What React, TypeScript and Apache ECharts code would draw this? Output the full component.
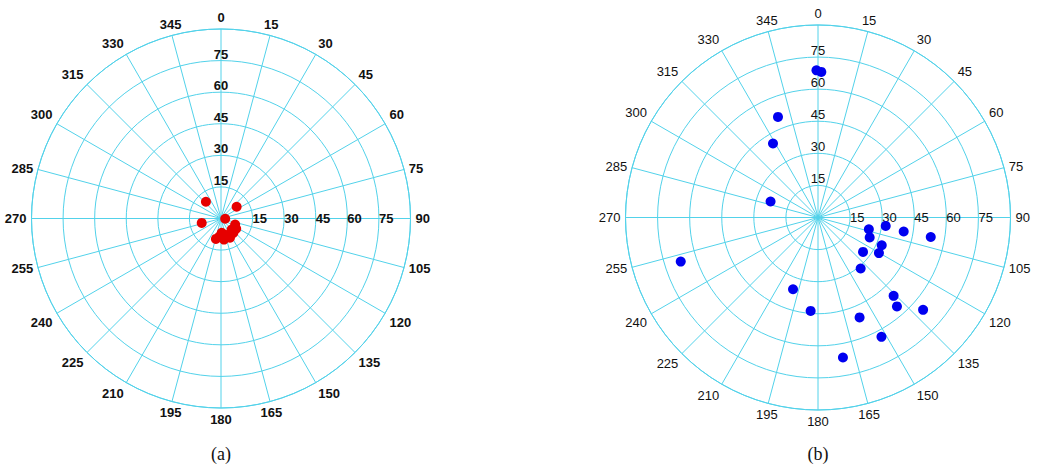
import React, { useEffect, useRef } from "react";
import * as echarts from "echarts";

// Angle ticks (degrees, clockwise from top) and radius ticks
const angleTicks = [0, 15, 30, 45, 60, 75, 90, 105, 120, 135, 150, 165, 180, 195, 210, 225, 240, 255, 270, 285, 300, 315, 330, 345];
const radiusTicks = [15, 30, 45, 60, 75];

// (a) red points: [radius, angle]
const seriesA: [number, number][] = [
  [10.7, 318], [9.3, 53], [9.4, 257], [2.0, 94], [8.8, 186], [10.1, 172], [10.1, 155],
  [9.0, 139], [8.7, 124], [7.3, 113], [6.8, 177], [8.4, 155], [7.3, 136], [10.0, 194],
];

// (b) blue points: [radius, angle]
const seriesB: [number, number][] = [
  [68.8, 359.4], [68.1, 1.3], [50.6, 338.3], [40.5, 328.7], [23.4, 288.6], [67.4, 252.2],
  [35.5, 199.2], [43.8, 184.5], [66.5, 169.9], [50.6, 157.4], [63.2, 152], [50.9, 136],
  [55.6, 138.4], [65.4, 131.3], [31.1, 140.1], [26.5, 127.4], [33.0, 120.3], [32.5, 113.5],
  [24.4, 103], [25.9, 111.1], [31.9, 97.1], [40.6, 99.3], [53.5, 99.8],
];

const captions = ["(a)", "(b)"];

const GRID = "#52d2ea";
const FONT = "Liberation Sans, Arial, sans-serif";

export default function App() {
  const ref = useRef<HTMLDivElement>(null);

  useEffect(() => {
    if (!ref.current) return;
    const chart = echarts.init(ref.current, undefined, { renderer: "svg" });

    const panels = [
      { center: [221, 218.5], radius: 189.5, weight: "bold", data: seriesA, color: "#e60000", size: 10 },
      { center: [818, 217.5], radius: 192.5, weight: "normal", data: seriesB, color: "#0000f0", size: 10 },
    ];

    const radFmt = (v: number) => (radiusTicks.indexOf(v) >= 0 ? String(v) : "");
    const angFmt = (v: number) => (angleTicks.indexOf(v) >= 0 ? String(v) : "");

    const hiddenAxis = {
      axisLine: { show: false },
      axisTick: { show: false },
      splitLine: { show: false },
      splitArea: { show: false },
      axisLabel: { show: false },
    };

    const polar: any[] = [];
    const angleAxis: any[] = [];
    const radiusAxis: any[] = [];
    const series: any[] = [];

    // main polars (0, 1)
    panels.forEach((p, i) => {
      polar.push({ center: p.center, radius: p.radius });
      angleAxis.push({
        polarIndex: i,
        type: "value",
        min: 0,
        max: 360,
        interval: 15,
        startAngle: 90,
        clockwise: true,
        axisLine: { show: true, lineStyle: { color: GRID, width: 1 } },
        axisTick: { show: false },
        splitLine: { show: true, lineStyle: { color: GRID, width: 1 } },
        axisLabel: {
          show: true,
          margin: 5,
          color: "#111",
          fontSize: 13,
          fontWeight: p.weight,
          fontFamily: FONT,
          formatter: angFmt,
        },
      });
      radiusAxis.push({
        polarIndex: i,
        type: "value",
        min: 0,
        max: 90,
        interval: 15,
        axisLine: { show: false },
        axisTick: { show: false },
        splitLine: { show: true, lineStyle: { color: GRID, width: 1 } },
        axisLabel: {
          show: true,
          margin: 0,
          align: "center",
          verticalAlign: "bottom",
          color: "#111",
          fontSize: 13,
          fontWeight: p.weight,
          fontFamily: FONT,
          formatter: radFmt,
        },
      });
      series.push({
        type: "scatter",
        coordinateSystem: "polar",
        polarIndex: i,
        symbol: "circle",
        symbolSize: p.size,
        itemStyle: { color: p.color, opacity: 1 },
        data: p.data,
        z: 5,
      });
    });

    // label-only polars (2, 3): radius labels along the 90° direction
    panels.forEach((p, i) => {
      const idx = 2 + i;
      polar.push({ center: p.center, radius: p.radius });
      angleAxis.push({
        polarIndex: idx,
        type: "value",
        min: 0,
        max: 360,
        interval: 90,
        startAngle: 0,
        clockwise: true,
        ...hiddenAxis,
      });
      radiusAxis.push({
        polarIndex: idx,
        type: "value",
        min: 0,
        max: 90,
        interval: 15,
        ...hiddenAxis,
        axisLabel: {
          show: true,
          margin: 0,
          align: "left",
          verticalAlign: "middle",
          color: "#111",
          fontSize: 13,
          fontWeight: p.weight,
          fontFamily: FONT,
          formatter: radFmt,
        },
      });
    });

    chart.setOption({
      animation: false,
      backgroundColor: "#ffffff",
      polar,
      angleAxis,
      radiusAxis,
      series,
      graphic: captions.map((c, i) => ({
        type: "text",
        x: panels[i].center[0],
        y: 454,
        style: {
          text: c,
          font: "18px 'Liberation Serif', 'Times New Roman', serif",
          fill: "#111",
          align: "center",
          verticalAlign: "middle",
        },
      })),
    });

    return () => chart.dispose();
  }, []);

  return (
    <div
      ref={ref}
      style={{ position: "fixed", left: 0, top: 0, width: 1043, height: 469, background: "#fff" }}
    />
  );
}
